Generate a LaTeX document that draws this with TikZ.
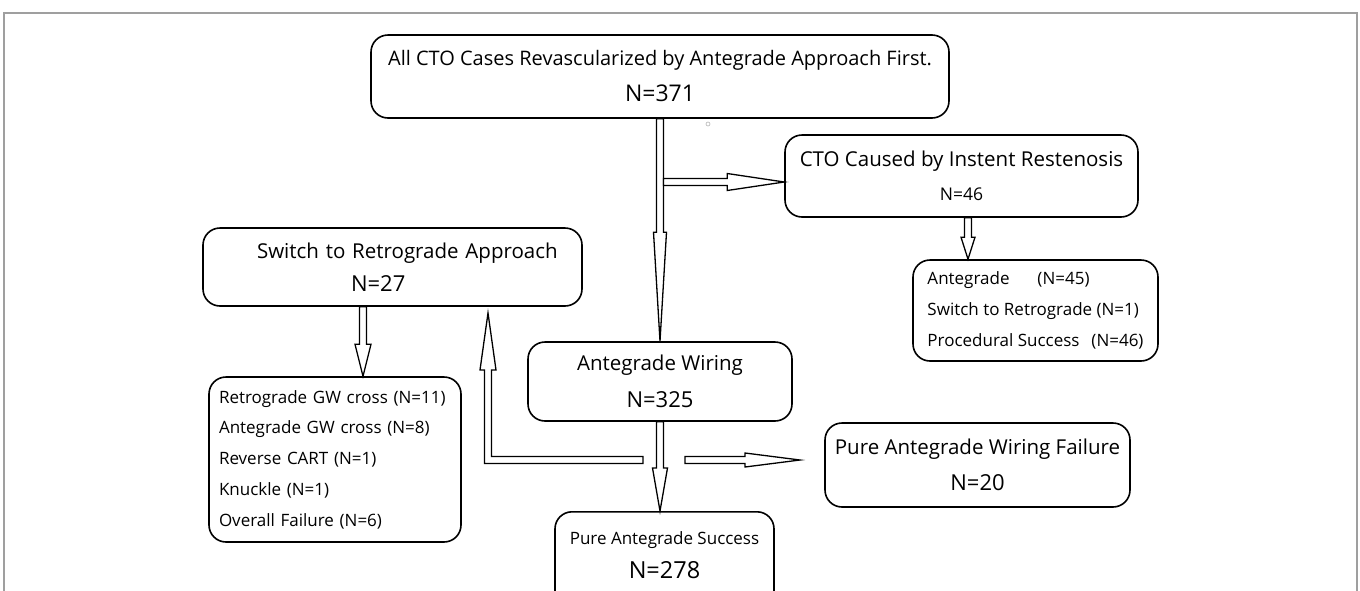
\documentclass[tikz,border=0pt]{standalone}
\usepackage{fontspec}
\setmainfont{Open Sans}
\usetikzlibrary{calc}

\newcommand{\nval}[2][22]{{\fontsize{#1}{26}\selectfont #2}}

\tikzset{
  tiplen/.store in=\tiplen, tiplen=55pt,
  tipwd/.store in=\tipwd, tipwd=8pt,
  shaftwd/.store in=\shaftwd, shaftwd=3.5pt,
  box/.style={draw, line width=1.6pt, rounded corners=17pt, align=center, inner sep=0pt},
  listbox/.style={draw, line width=1.6pt, rounded corners=17pt, align=left, inner ysep=0pt},
  blockline/.style={draw, line width=1.3pt, fill=white, line join=miter},
  blockarrow/.style={blockline, to path={
      ($(\tikztotarget)!\tiplen!(\tikztostart)$) coordinate (tipbase)
      ($(\tikztostart)!\shaftwd!90:(\tikztotarget)$)
      -- ($(tipbase)!\shaftwd!-90:(\tikztostart)$)
      -- ($(tipbase)!\tipwd!-90:(\tikztostart)$)
      -- (\tikztotarget)
      -- ($(tipbase)!\tipwd!90:(\tikztostart)$)
      -- ($(tipbase)!\shaftwd!90:(\tikztostart)$)
      -- ($(\tikztostart)!\shaftwd!-90:(\tikztotarget)$)
      -- cycle}},
}

\begin{document}
\begin{tikzpicture}[x=1pt, y=-1pt]
    \useasboundingbox (0,0) rectangle (1360,590);
    \clip (0,0) rectangle (1360,590);
    \draw[gray!75, line width=2pt] (4,595) |- (1357,13) -- (1357,595);

    \node[box, minimum width=578pt, minimum height=83pt, font=\fontsize{20}{36}\selectfont] (top) at (660,76.5)
        {All CTO Cases Revascularized by Antegrade Approach First.\\\nval[23]{N=371}};
    \node[box, minimum width=353pt, minimum height=82pt, font=\fontsize{20.5}{34}\selectfont] (isr) at (961.5,176)
        {CTO Caused by Instent Restenosis\\\nval[17.5]{N=46}};
    \node[listbox, inner xsep=0pt, minimum width=245pt, minimum height=101pt, font=\fontsize{17}{31}\selectfont] (sub) at (1035.5,310.5)
        {\makebox[110pt][l]{Antegrade}(N=45)\\Switch to Retrograde (N=1)\\\makebox[164pt][l]{Procedural Success}(N=46)};
    \node[box, align=left, text width=379pt, minimum height=78pt, font=\fontsize{20.5}{33}\selectfont] (sw) at (392.5,267)
        {\hspace*{54pt}Switch to Retrograde Approach\\\hspace*{148pt}\nval{N=27}};
    \node[listbox, text width=232pt, inner xsep=10pt, minimum height=165pt, font=\fontsize{17}{30.75}\selectfont] (retro) at (335,459.5)
        {Retrograde GW cross (N=11)\\Antegrade GW cross (N=8)\\Reverse CART (N=1)\\Knuckle (N=1)\\Overall Failure (N=6)};
    \node[box, minimum width=264pt, minimum height=79pt, font=\fontsize{20.5}{37}\selectfont] (aw) at (660,381.5)
        {Antegrade Wiring\\\nval{N=325}};
    \node[box, minimum width=305pt, minimum height=84pt, font=\fontsize{20.5}{36}\selectfont] (fail) at (977.5,465)
        {Pure Antegrade Wiring Failure\\\nval{N=20}};
    \node[box, anchor=north, minimum width=219pt, minimum height=120pt, font=\fontsize{17}{34}\selectfont] (pas) at (664.5,511)
        {Pure Antegrade Success\\\nval[23.5]{N=278}\\\rule{0pt}{30pt}};

    \coordinate (isrout) at (663.5,182);
    \coordinate (isrdown) at ($(isr.south)+(6.5,0)$);
    \coordinate (swdown) at ($(sw.south)+(-29.5,0)$);
    \coordinate (elbout) at (643,460);
    \coordinate (swin) at (488,313);
    \coordinate (failout) at (685,460);
    \coordinate (failin) at (800,460);

    \path[blockarrow, tiplen=109pt, tipwd=6.5pt] (top.south) to (aw.north);
    \path[blockarrow, tiplen=57pt, tipwd=8.5pt] (isrout) to (isrout -| isr.west);
    \path[blockarrow, tiplen=22pt, tipwd=7pt] (isrdown) to (isrdown |- sub.north);
    \path[blockarrow, tiplen=32pt, tipwd=8pt] (swdown) to (swdown |- retro.north);
    \path[blockarrow, tiplen=43pt, tipwd=7.5pt] (aw.south) to (aw.south |- pas.north);
    \path[blockarrow, tiplen=55pt, tipwd=7pt] (failout) to (failin);
    \path[blockline] ($(elbout)+(0,-3.5)$) -| ($(swin)+(3.5,57)$) -- ++(4.5,0) -- (swin)
        -- ++(-8,57) -- ++(4.5,0) |- ($(elbout)+(0,3.5)$) -- cycle;

    \draw[gray!60, line width=0.6pt] (708,124) circle (2pt);
\end{tikzpicture}
\end{document}
